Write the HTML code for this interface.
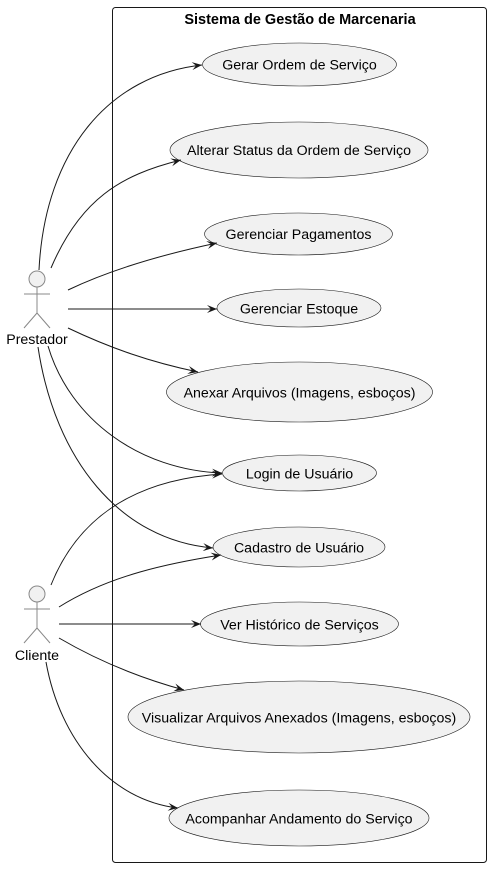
<!DOCTYPE html>
<html><head><meta charset="utf-8"><style>
html,body{margin:0;padding:0;background:#fff;}
svg{display:block;}
text{font-family:"Liberation Sans",Arial,sans-serif;font-size:14.2px;fill:#000;}
</style></head><body>
<svg width="493" height="869" viewBox="0 0 493 869" xmlns="http://www.w3.org/2000/svg">
<defs>
<marker id="a" viewBox="0 0 10 8" refX="10" refY="4" markerWidth="10" markerHeight="8" markerUnits="userSpaceOnUse" orient="auto">
<path d="M0,0 L10,4 L0,8 L4,4 z" fill="#181818"/>
</marker>
</defs>
<rect x="112.5" y="7.5" width="374" height="855" rx="3" fill="#fff" stroke="#181818" stroke-width="1"/>
<text x="300" y="24" text-anchor="middle" style="font-weight:bold;font-size:14.5px">Sistema de Gestão de Marcenaria</text>

<g fill="#f1f1f1" stroke="#181818" stroke-width="0.6">
<ellipse cx="299.5" cy="64.5" rx="97" ry="21.5"/>
<ellipse cx="299" cy="150" rx="129" ry="28"/>
<ellipse cx="298.5" cy="234" rx="94" ry="21"/>
<ellipse cx="299" cy="308" rx="82" ry="19"/>
<ellipse cx="299.5" cy="392" rx="133" ry="30"/>
<ellipse cx="299.5" cy="473" rx="77" ry="18"/>
<ellipse cx="299" cy="547" rx="86" ry="20"/>
<ellipse cx="299.5" cy="624" rx="99" ry="22"/>
<ellipse cx="299" cy="717" rx="171" ry="36"/>
<ellipse cx="299" cy="818" rx="130" ry="28"/>
</g>
<g text-anchor="middle">
<text x="299.5" y="69.5">Gerar Ordem de Serviço</text>
<text x="299" y="155">Alterar Status da Ordem de Serviço</text>
<text x="298.5" y="239">Gerenciar Pagamentos</text>
<text x="299" y="313.5">Gerenciar Estoque</text>
<text x="299.5" y="397.5">Anexar Arquivos (Imagens, esboços)</text>
<text x="299.5" y="478.5">Login de Usuário</text>
<text x="299" y="552.5">Cadastro de Usuário</text>
<text x="299.5" y="629.5">Ver Histórico de Serviços</text>
<text x="299" y="722.5">Visualizar Arquivos Anexados (Imagens, esboços)</text>
<text x="299" y="823.5">Acompanhar Andamento do Serviço</text>
</g>

<g fill="#f1f1f1" stroke="#888" stroke-width="1">
<circle cx="37" cy="279" r="8"/>
<path d="M37,287 V313 M24,294 H50 M37,313 L24,328 M37,313 L50,328" fill="none"/>
<circle cx="37" cy="594" r="8"/>
<path d="M37,602 V628 M24,609 H50 M37,628 L24,643 M37,628 L50,643" fill="none"/>
</g>
<text x="37" y="344" text-anchor="middle">Prestador</text>
<text x="37" y="660" text-anchor="middle">Cliente</text>

<g fill="none" stroke="#181818" stroke-width="1" marker-end="url(#a)">
<path d="M39,270 C45,150 110,75 202,65"/>
<path d="M51,268 C80,200 120,175 181,160"/>
<path d="M68,290 C110,270 160,255 217,243"/>
<path d="M68,309 L217,309"/>
<path d="M68,328 C110,348 150,362 198,372"/>
<path d="M48,346 C70,420 140,470 222,473"/>
<path d="M38,347 C55,460 120,540 213,548"/>
<path d="M51,585 C85,500 160,478 222,474"/>
<path d="M59,607 C110,575 170,563 221,555"/>
<path d="M59,624 L201,624"/>
<path d="M59,638 C100,662 140,678 184,690"/>
<path d="M46,662 C60,740 110,800 178,808"/>
</g>
</svg>
</body></html>
